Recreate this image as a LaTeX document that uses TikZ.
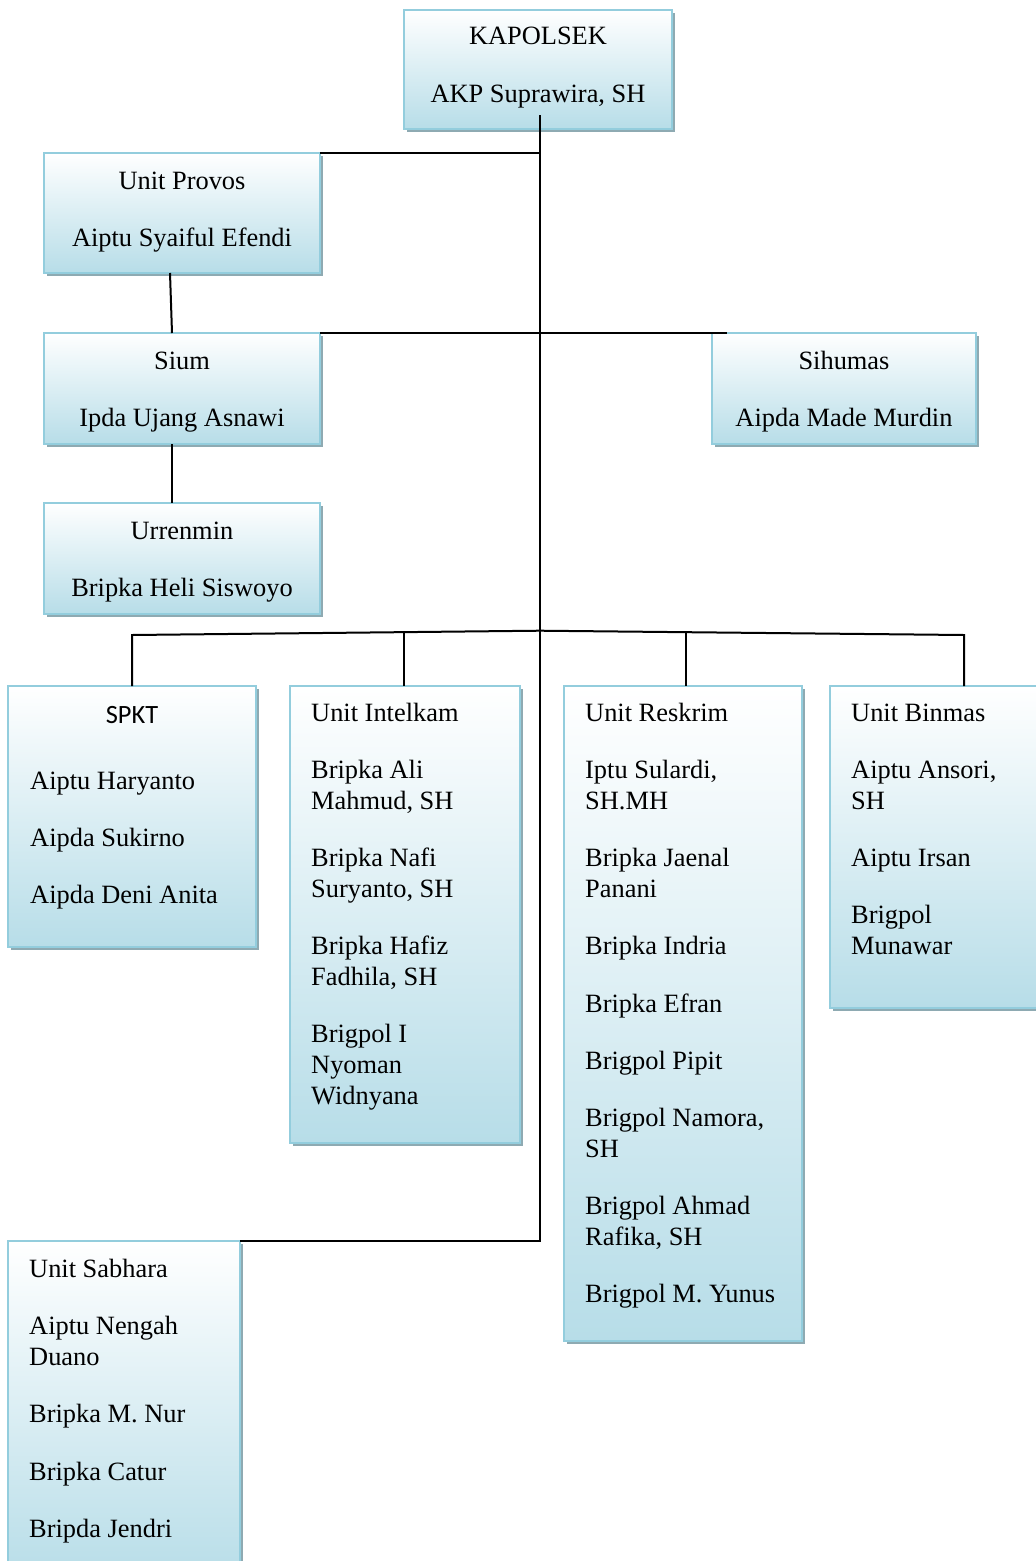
\documentclass[tikz,border=0pt]{standalone}
\usepackage{fontspec}
\setmainfont{Liberation Serif}
\newfontfamily\calib{Carlito}
\usetikzlibrary{shadows}
\definecolor{bordc}{HTML}{93CDDD}
\definecolor{fillc}{HTML}{B7DDE8}
\definecolor{shadc}{HTML}{8EAAB2}
\begin{document}
\begin{tikzpicture}[x=1pt,y=-1pt,
  box/.style={draw=bordc, line width=2pt, top color=white, bottom color=fillc,
    inner sep=0pt, outer sep=0pt, anchor=north west,
    drop shadow={shadow xshift=3pt, shadow yshift=-3pt, fill=shadc, opacity=1}},
  ln/.style={line width=2pt, black},
  lt/.style={anchor=base west, inner sep=0pt, font=\fontsize{26.4}{31}\selectfont},
  ct/.style={anchor=base, inner sep=0pt, font=\fontsize{26.4}{31}\selectfont}]
\useasboundingbox (0,0) rectangle (1036,1561);
\clip (0,0) rectangle (1036,1561);

% boxes
\node[box, minimum width=268pt, minimum height=119pt] (kap) at (404,10) {};
\node[box, minimum width=276pt, minimum height=120pt] (provos) at (44,153) {};
\node[box, minimum width=276pt, minimum height=111pt] (sium) at (44,333) {};
\node[box, minimum width=264pt, minimum height=111pt] (sihumas) at (712,333) {};
\node[box, minimum width=276pt, minimum height=111pt] (urren) at (44,503) {};
\node[box, minimum width=248pt, minimum height=261pt] (spkt) at (8,686) {};
\node[box, minimum width=230pt, minimum height=457pt] (intel) at (290,686) {};
\node[box, minimum width=238pt, minimum height=655pt] (reskrim) at (564,686) {};
\node[box, minimum width=215pt, minimum height=322pt] (binmas) at (830,686) {};
\node[box, minimum width=232pt, minimum height=340pt] (sabhara) at (8,1241) {};

% connectors
\coordinate (top) at (540,115);
\coordinate (jprov) at (540,153);
\coordinate (jsium) at (540,333);
\coordinate (jsihend) at (727,333);
\coordinate (jbus) at (540,630.7);
\coordinate (jsab) at (540,1241);
\coordinate (bL) at (132,635);
\coordinate (bI) at (404,632);
\coordinate (bR) at (686,632.7);
\coordinate (bB) at (964,635);
\coordinate (dI) at (404,686);
\coordinate (dR) at (686,686);
\coordinate (dB) at (964,686);
\coordinate (pb) at (170,273);
\coordinate (st) at (172,333);
\coordinate (sb) at (172,444);
\coordinate (ut) at (172,503);

\draw[ln] (top) -- (jprov) -- (jsium) -- (jbus) -- (jsab) -- (sabhara.north east);
\draw[ln] (jprov) -- (provos.north east);
\draw[ln] (sium.north east) -- (jsihend);
\draw[ln] (pb) -- (st);
\draw[ln] (sb) -- (ut);
\draw[ln] (spkt.north) -- (bL) -- (jbus) -- (bB) -- (dB);
\draw[ln] (bI) -- (dI);
\draw[ln] (bR) -- (dR);

% texts
\node[ct] (t1) at (538,44) {KAPOLSEK};
\node[ct] (t2) at (538,102) {AKP Suprawira, SH};
\node[ct] (t3) at (182,189) {Unit Provos};
\node[ct] (t4) at (182,246) {Aiptu Syaiful Efendi};
\node[ct] (t5) at (182,369) {Sium};
\node[ct] (t6) at (182,426) {Ipda Ujang Asnawi};
\node[ct] (t7) at (844,369) {Sihumas};
\node[ct] (t8) at (844,426) {Aipda Made Murdin};
\node[ct] (t9) at (182,539) {Urrenmin};
\node[ct] (t10) at (182,596) {Bripka Heli Siswoyo};

\node[ct, font=\calib\fontsize{26.4}{31}\selectfont] (s0) at (132,723) {SPKT};
\node[lt] (s1) at (30,789) {Aiptu Haryanto};
\node[lt] (s2) at (30,846) {Aipda Sukirno};
\node[lt] (s3) at (30,903) {Aipda Deni Anita};

\node[lt] (i0) at (311,721) {Unit Intelkam};
\node[lt] (i1) at (311,778) {Bripka Ali};
\node[lt] (i2) at (311,809) {Mahmud, SH};
\node[lt] (i3) at (311,866) {Bripka Nafi};
\node[lt] (i4) at (311,897) {Suryanto, SH};
\node[lt] (i5) at (311,954) {Bripka Hafiz};
\node[lt] (i6) at (311,985) {Fadhila, SH};
\node[lt] (i7) at (311,1042) {Brigpol I};
\node[lt] (i8) at (311,1073) {Nyoman};
\node[lt] (i9) at (311,1104) {Widnyana};

\node[lt] (r0) at (585,721) {Unit Reskrim};
\node[lt] (r1) at (585,778) {Iptu Sulardi,};
\node[lt] (r2) at (585,809) {SH.MH};
\node[lt] (r3) at (585,866) {Bripka Jaenal};
\node[lt] (r4) at (585,897) {Panani};
\node[lt] (r5) at (585,954) {Bripka Indria};
\node[lt] (r6) at (585,1012) {Bripka Efran};
\node[lt] (r7) at (585,1069) {Brigpol Pipit};
\node[lt] (r8) at (585,1126) {Brigpol Namora,};
\node[lt] (r9) at (585,1157) {SH};
\node[lt] (r10) at (585,1214) {Brigpol Ahmad};
\node[lt] (r11) at (585,1245) {Rafika, SH};
\node[lt] (r12) at (585,1302) {Brigpol M. Yunus};

\node[lt] (b0) at (851,721) {Unit Binmas};
\node[lt] (b1) at (851,778) {Aiptu Ansori,};
\node[lt] (b2) at (851,809) {SH};
\node[lt] (b3) at (851,866) {Aiptu Irsan};
\node[lt] (b4) at (851,923) {Brigpol};
\node[lt] (b5) at (851,954) {Munawar};

\node[lt] (h0) at (29,1277) {Unit Sabhara};
\node[lt] (h1) at (29,1334) {Aiptu Nengah};
\node[lt] (h2) at (29,1365) {Duano};
\node[lt] (h3) at (29,1422) {Bripka M. Nur};
\node[lt] (h4) at (29,1480) {Bripka Catur};
\node[lt] (h5) at (29,1537) {Bripda Jendri};
\end{tikzpicture}
\end{document}
